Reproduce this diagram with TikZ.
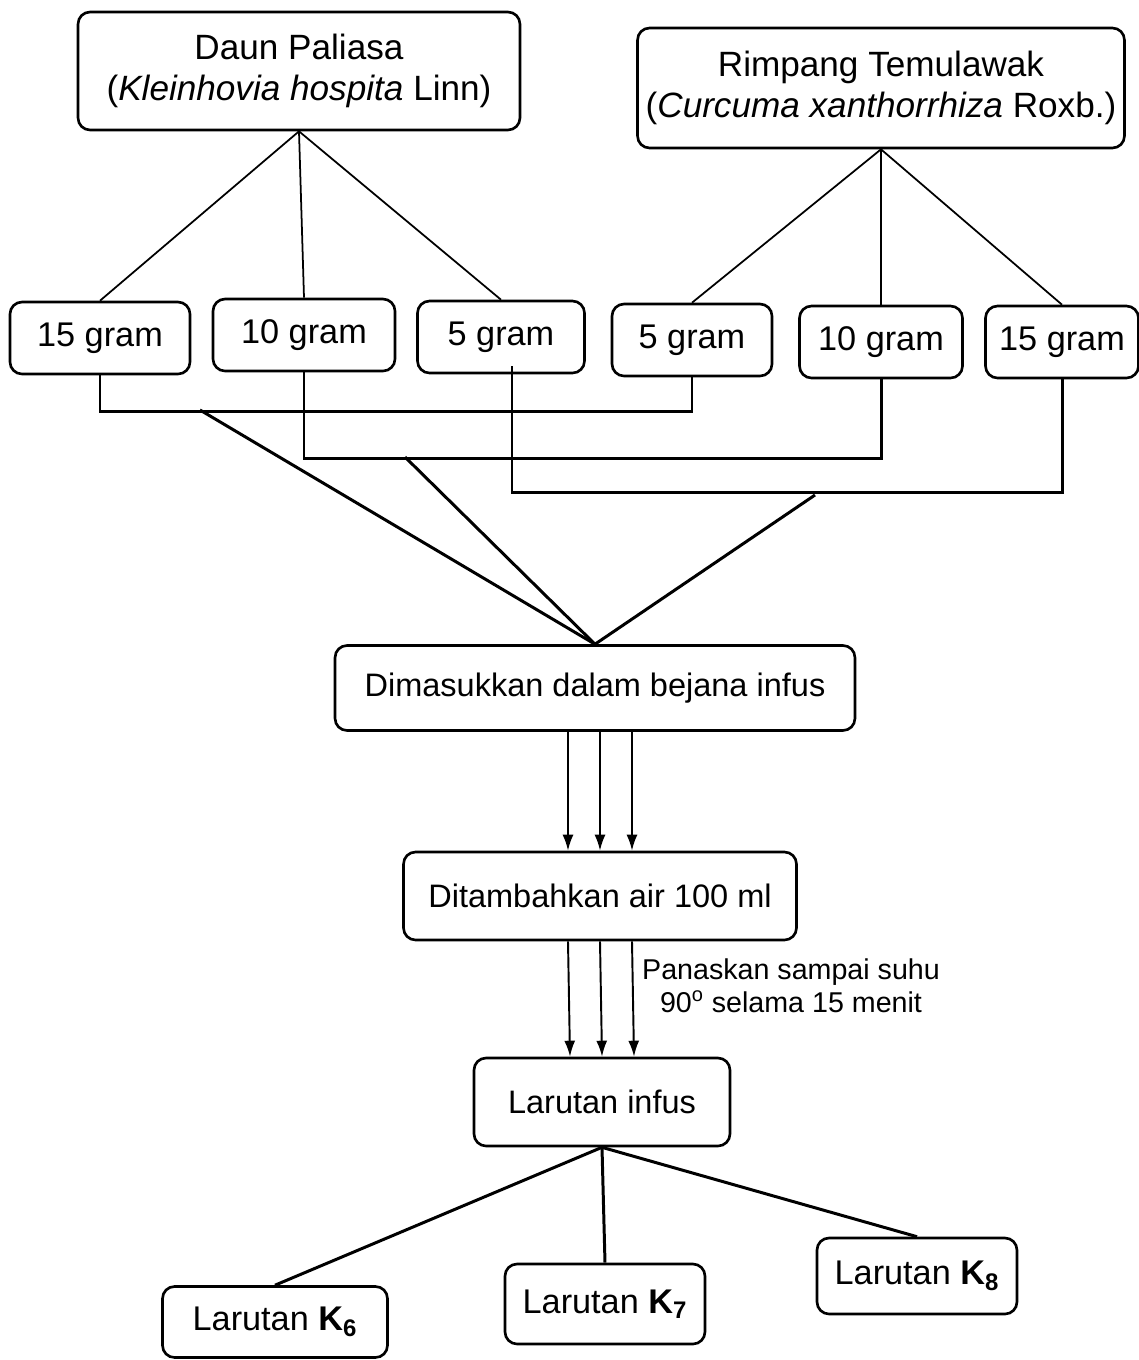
\documentclass[tikz,border=0pt]{standalone}
\usepackage{fontspec}
\setmainfont{Liberation Sans}
\usetikzlibrary{arrows.meta}

\begin{document}
\begin{tikzpicture}[x=0.02cm, y=-0.02cm,
    kotak/.style={draw, line width=1.5pt, rounded corners=0.24cm, align=center, inner sep=0pt,
                  font=\fontsize{18.5}{23}\selectfont},
    besar/.style={font=\fontsize{20}{23}\selectfont},
    sedang/.style={font=\fontsize{19.5}{23}\selectfont},
    tipis/.style={line width=1pt},
    tebal/.style={line width=1.7pt},
    panah/.style={line width=1.1pt, -{Latex[length=0.32cm, width=0.22cm]}}]

        \useasboundingbox (0,0) rectangle (1139,1360);

        % Bahan
        \node [kotak, besar, minimum width=8.84cm, minimum height=2.36cm] (daun) at (299,71) {Daun Paliasa\\(\textit{Kleinhovia hospita} Linn)};
        \node [kotak, besar, minimum width=9.74cm, minimum height=2.40cm] (rimpang) at (881,88) {Rimpang Temulawak\\(\textit{Curcuma xanthorrhiza} Roxb.)};

        % Takaran
        \foreach \nama/\x/\y/\lebar/\gram in {g1/100/338/180/15, g2/304/335/182/10, g3/501/337/167/5, g4/692/340/160/5, g5/881/342/163/10, g6/1062/342/153/15}
            \node [kotak, sedang, minimum width=\lebar*0.02cm, minimum height=1.44cm] (\nama) at (\x,\y) {\gram\ gram};

        \foreach \nama in {g1, g2, g3}
            \draw [tipis] (daun.south) -- (\nama.north);
        \foreach \nama in {g4, g5, g6}
            \draw [tipis] (rimpang.south) -- (\nama.north);

        % Campuran
        \draw [tebal] (g1.south) -- ++(0,36) -| (g4.south);
        \draw [tebal] (g2.south) -- ++(0,86) -| (g5.south);
        \draw [tebal] ([xshift=0.22cm, yshift=0.16cm]g3.south) -- ++(0,126) -| (g6.south);

        \coordinate (c1) at (200,410);
        \coordinate (c2) at (405,457);
        \coordinate (c3) at (815,495);

        \node [kotak, minimum width=10.4cm, minimum height=1.70cm] (masuk) at (595,688) {Dimasukkan dalam bejana infus};

        \foreach \c in {c1, c2, c3}
            \draw [tebal] (\c) -- (masuk.north);

        \node [kotak, minimum width=7.86cm, minimum height=1.76cm] (tambah) at (600,896) {Ditambahkan air 100 ml};
        \node [kotak, minimum width=5.12cm, minimum height=1.76cm] (infus) at (602,1102) {Larutan infus};

        % Panah
        \foreach \dx in {-32, 0, 32}
        {
            \draw [panah] ([xshift=\dx*0.02cm+0.1cm]masuk.south) -- ([xshift=\dx*0.02cm]tambah.north);
            \draw [panah] ([xshift=\dx*0.02cm]tambah.south) -- ([xshift=\dx*0.02cm]infus.north);
        }
        \node [align=center, font=\fontsize{16.3}{18.5}\selectfont] (panas) at (791,986) {Panaskan sampai suhu\\90\textsuperscript{o} selama 15 menit};

        % Hasil
        \node [kotak, sedang, minimum width=4.5cm, minimum height=1.42cm] (k6) at (275,1322) {Larutan \textbf{K\textsubscript{6}}};
        \node [kotak, sedang, minimum width=4.0cm, minimum height=1.60cm] (k7) at (605,1304) {Larutan \textbf{K\textsubscript{7}}};
        \node [kotak, sedang, minimum width=4.0cm, minimum height=1.52cm] (k8) at (917,1276) {Larutan \textbf{K\textsubscript{8}}};

        \foreach \nama in {k6, k7, k8}
            \draw [tebal] (infus.south) -- (\nama.north);

\end{tikzpicture}
\end{document}
